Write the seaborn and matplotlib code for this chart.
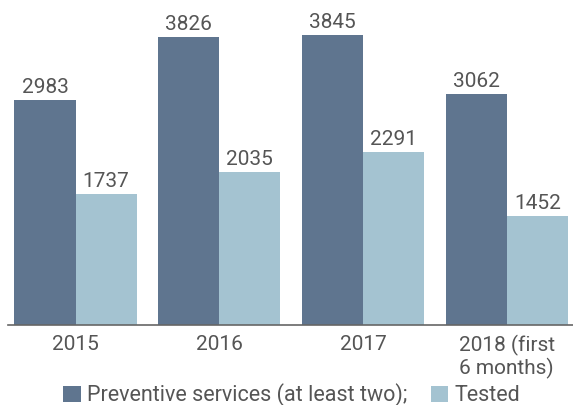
import matplotlib
matplotlib.use("Agg")
import matplotlib.pyplot as plt
import seaborn as sns
import pandas as pd

categories = ["2015", "2016", "2017", "2018 (first\n6 months)"]
preventive = [2983, 3826, 3845, 3062]
tested = [1737, 2035, 2291, 1452]
series_names = ["Preventive services (at least two);", "Tested"]
colors = ["#5f758f", "#a4c3d1"]

df = pd.DataFrame({
    "year": categories * 2,
    "value": preventive + tested,
    "series": [series_names[0]] * 4 + [series_names[1]] * 4,
})

sns.set_theme(style="white")
plt.rcParams["font.family"] = ["Roboto", "DejaVu Sans"]
text_color = "#555555"

fig = plt.figure(figsize=(5.73, 4.05), dpi=100)
ax = fig.add_axes([8 / 573, 80 / 405, 565 / 573, 301.6 / 405])

sns.barplot(data=df, x="year", y="value", hue="series", palette=colors,
            width=0.85, gap=0, saturation=1, linewidth=0, edgecolor="none",
            ax=ax, legend=True)

for cont in ax.containers:
    ax.bar_label(cont, labels=[f"{int(v)}" for v in cont.datavalues],
                 padding=2, fontsize=15, color=text_color)

ax.set_ylim(0, 4000)
ax.set_xlim(-0.47, 3.46)
ax.set_xlabel("")
ax.set_ylabel("")
ax.set_yticks([])
for s in ["top", "right", "left"]:
    ax.spines[s].set_visible(False)
ax.spines["bottom"].set_color("#666666")
ax.spines["bottom"].set_linewidth(1.2)
ax.tick_params(axis="x", length=0, pad=7, labelsize=15, labelcolor=text_color)
for lbl in ax.get_xticklabels():
    lbl.set_horizontalalignment("center")
    lbl.set_multialignment("left")
    lbl.set_linespacing(1.15)

handles, labels = ax.get_legend_handles_labels()
ax.legend(handles, labels, loc="center", bbox_to_anchor=(292 / 573, 10 / 405),
          bbox_transform=fig.transFigure, ncol=2, frameon=False, fontsize=15.5,
          labelcolor=text_color, handlelength=0.8, handleheight=0.8,
          handletextpad=0.3, columnspacing=1.1, borderpad=0)

fig.savefig("out.png", dpi=100)
